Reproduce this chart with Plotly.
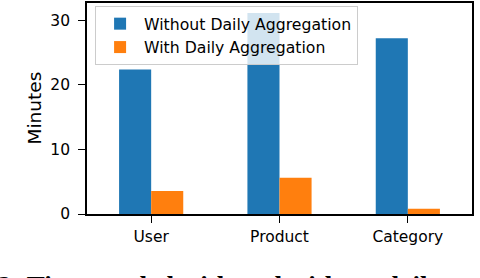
import plotly.graph_objects as go

categories = ["User", "Product", "Category"]
without_daily = [22.35, 31.1, 27.2]
with_daily = [3.57, 5.6, 0.81]
series_names = ["Without Daily Aggregation", "With Daily Aggregation"]
y_ticks = [0, 10, 20, 30]
caption = "2: Time needed with and without daily"

BLUE = "#1f77b4"
ORANGE = "#ff7f0e"
FONT = "DejaVu Sans"

fig = go.Figure()
fig.add_trace(go.Bar(x=categories, y=without_daily, name=series_names[0],
                     marker=dict(color=BLUE, line=dict(width=0))))
fig.add_trace(go.Bar(x=categories, y=with_daily, name=series_names[1],
                     marker=dict(color=ORANGE, line=dict(width=0))))

fig.update_layout(
    width=480, height=278,
    margin=dict(l=87, r=8, t=1, b=64, pad=0),
    paper_bgcolor="white", plot_bgcolor="white",
    barmode="group", bargap=0.5, bargroupgap=0,
    font=dict(family=FONT, size=15.5, color="black"),
    showlegend=True,
    legend=dict(
        x=0.021, y=0.986, xanchor="left", yanchor="top",
        bgcolor="rgba(255,255,255,0.8)", bordercolor="#cccccc", borderwidth=1,
        font=dict(family=FONT, size=15.7, color="black"),
        traceorder="normal", itemwidth=38,
    ),
    xaxis=dict(
        type="category", range=[-0.5, 2.5],
        showline=True, linecolor="black", linewidth=1.6, mirror=True,
        ticks="outside", ticklen=7, tickwidth=1.2, tickcolor="black",
        showgrid=False, zeroline=False,
        tickfont=dict(family=FONT, size=15.5, color="black"),
        ticklabelstandoff=1,
    ),
    yaxis=dict(
        range=[0, 32.66], tickvals=y_ticks,
        showline=True, linecolor="black", linewidth=1.6, mirror=True,
        ticks="outside", ticklen=7, tickwidth=1.2, tickcolor="black",
        showgrid=False, zeroline=False,
        tickfont=dict(family=FONT, size=15.5, color="black"),
        ticklabelstandoff=5,
    ),
    annotations=[
        dict(text="Minutes", xref="paper", yref="paper", x=0, y=0.5,
             xanchor="center", yanchor="middle", xshift=-53, textangle=-90,
             showarrow=False, font=dict(family=FONT, size=18.5, color="black")),
        dict(text="<b>" + caption + "</b>",
             xref="paper", yref="paper", x=0, y=0, xanchor="left", yanchor="top",
             xshift=-91, yshift=-55, showarrow=False,
             font=dict(family="Liberation Serif", size=27, color="black")),
    ],
)

fig.write_html("out.html", config={"displayModeBar": False},
               post_script="document.body.style.margin='0px';document.body.style.overflow='hidden';")
